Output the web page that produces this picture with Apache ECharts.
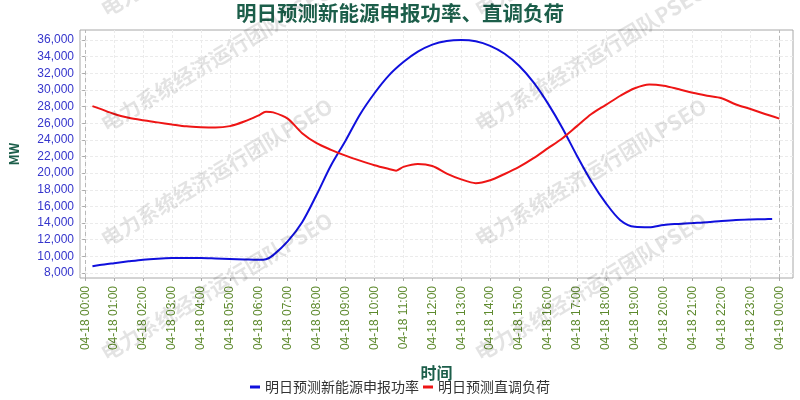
<!DOCTYPE html>
<html>
<head>
<meta charset="utf-8">
<script src="https://cdn.jsdelivr.net/npm/echarts@6/dist/echarts.min.js"></script>
<style>
html,body{margin:0;padding:0;background:#fff;}
#c{width:800px;height:400px;}
</style>
</head>
<body>
<div id="c"></div>
<script>
// ---- data ----
const titleText = '明日预测新能源申报功率、直调负荷';
const seriesNames = ['明日预测新能源申报功率', '明日预测直调负荷'];
const tickHours = [0,1,2,3,4,5,6,7,8,9,10,11,12,13,14,15,16,17,18,19,20,21,22,23,24];
const tickLabels = ['04-18 00:00','04-18 01:00','04-18 02:00','04-18 03:00','04-18 04:00','04-18 05:00','04-18 06:00','04-18 07:00','04-18 08:00','04-18 09:00','04-18 10:00','04-18 11:00','04-18 12:00','04-18 13:00','04-18 14:00','04-18 15:00','04-18 16:00','04-18 17:00','04-18 18:00','04-18 19:00','04-18 20:00','04-18 21:00','04-18 22:00','04-18 23:00','04-19 00:00'];
const yTicks = [8000,10000,12000,14000,16000,18000,20000,22000,24000,26000,28000,30000,32000,34000,36000];

const newEnergyHours = [0.25,0.5,1,1.5,2,2.5,3,3.5,4,4.5,5,5.5,6,6.25,6.5,7,7.5,8,8.5,9,9.5,10,10.5,11,11.5,12,12.5,13,13.5,14,14.5,15,15.5,16,16.5,17,17.5,18,18.5,19,19.5,20,20.5,21,21.5,22,22.5,23,23.5,23.75];
const newEnergyValues = [8800,8950,9180,9400,9600,9720,9790,9800,9800,9750,9690,9630,9580,9650,10150,11800,14100,17400,20950,23900,27050,29600,31750,33350,34600,35450,35880,36000,35850,35300,34350,32900,30900,28350,25400,22100,19000,16400,14350,13550,13500,13780,13900,14000,14100,14250,14370,14430,14470,14490];

const loadHours = [0.25,0.5,1,1.5,2,2.5,3,3.5,4,4.5,5,5.5,6,6.25,6.5,7,7.5,8,8.5,9,9.5,10,10.5,10.75,11,11.5,12,12.5,13,13.5,14,14.5,15,15.5,16,16.5,17,17.5,18,18.5,19,19.5,20,20.5,21,21.5,22,22.5,23,23.5,24];
const loadValues = [28050,27750,27100,26650,26350,26100,25850,25620,25520,25480,25650,26200,26950,27380,27300,26550,24800,23600,22800,22100,21500,20950,20500,20300,20750,21100,20850,19950,19250,18800,19150,19900,20750,21800,23000,24200,25650,27100,28200,29300,30200,30650,30500,30100,29650,29300,29000,28250,27700,27100,26550];

const watermarkText = '电力系统经济运行团队PSEO';

// ---- chart ----
const chart = echarts.init(document.getElementById('c'));
const pair = (xs, ys) => xs.map((x, i) => [x, ys[i]]);
const fmtNum = v => String(v).replace(/\B(?=(\d{3})+(?!\d))/g, ',');

const wmCols = [108, 482];
const wmRows = [20, 135, 250, 364];
const graphics = [];
wmCols.forEach(cx => wmRows.forEach(cy => {
  graphics.push({
    type: 'text', x: cx, y: cy, rotation: 31 * Math.PI / 180, z: 100, silent: true,
    style: { text: watermarkText, fill: 'rgba(0,0,0,0.11)', font: 'bold 21px "Noto Sans CJK SC", sans-serif', textAlign: 'left', textVerticalAlign: 'bottom' }
  });
}));

chart.setOption({
  animation: false,
  backgroundColor: '#fff',
  textStyle: { fontFamily: '"Noto Sans CJK SC", sans-serif' },
  title: {
    text: titleText, left: 'center', top: -2,
    textStyle: { fontSize: 20.5, fontWeight: 'bold', color: '#1c5e4a' }
  },
  legend: {
    data: seriesNames, left: 'center', top: 375, icon: 'rect', itemWidth: 10, itemHeight: 3, itemGap: 4,
    textStyle: { fontSize: 14, color: '#333' }
  },
  grid: { left: 70.5, right: 7, top: 30, bottom: 122, show: true, borderColor: '#a8a8a8', borderWidth: 1, containLabel: false },
  xAxis: {
    type: 'value', min: -0.18, max: 24.47,
    name: '时间', nameLocation: 'middle', nameGap: 87,
    nameTextStyle: { fontSize: 16, fontWeight: 'bold', color: '#1c5e4a' },
    axisLine: { show: false },
    axisTick: { show: true, customValues: tickHours, length: 3, lineStyle: { color: '#aaa' } },
    axisLabel: {
      customValues: tickHours, rotate: 90, margin: 8, fontSize: 12, color: '#5e8a2e',
      fontFamily: '"Liberation Sans", Arial, sans-serif',
      formatter: v => tickLabels[tickHours.indexOf(Math.round(v))]
    },
    splitLine: { show: true, lineStyle: { color: '#ebebeb', type: [3, 2] } }
  },
  yAxis: {
    type: 'value', min: 7400, max: 37200,
    name: 'MW', nameLocation: 'middle', nameGap: 59, nameRotate: 90,
    nameTextStyle: { fontSize: 13, fontWeight: 'bold', color: '#1c5e4a' },
    axisLine: { show: false },
    axisTick: { show: true, customValues: yTicks, length: 3, lineStyle: { color: '#aaa' } },
    axisLabel: { customValues: yTicks, margin: 6, fontSize: 12, color: '#3535cc', fontFamily: '"Liberation Sans", Arial, sans-serif', formatter: v => fmtNum(v) },
    splitLine: { show: true, lineStyle: { color: '#ebebeb', type: [3, 2] } }
  },
  graphic: graphics,
  series: [
    {
      name: seriesNames[0], type: 'line', data: pair(newEnergyHours, newEnergyValues),
      smooth: 0.3, showSymbol: false, symbol: 'none', color: '#1010dd',
      lineStyle: { width: 2, color: '#1010dd' },
      markLine: {
        silent: true, symbol: 'none', label: { show: false },
        lineStyle: { color: '#b8b8b8', type: [4, 3], width: 1 },
        data: [{ xAxis: 0 }, { xAxis: 24 }]
      }
    },
    {
      name: seriesNames[1], type: 'line', data: pair(loadHours, loadValues),
      smooth: 0.3, showSymbol: false, symbol: 'none', color: '#ee1515',
      lineStyle: { width: 2, color: '#ee1515' }
    }
  ]
});
</script>
</body>
</html>
